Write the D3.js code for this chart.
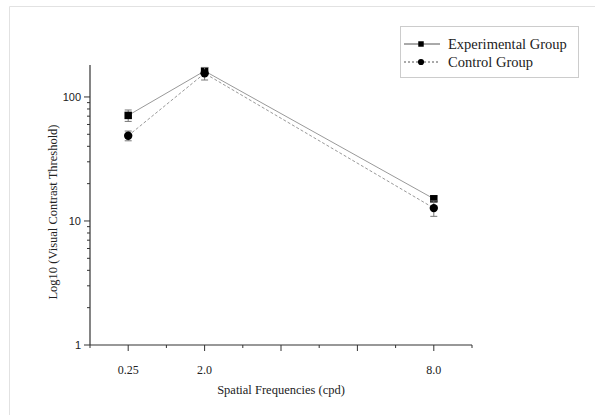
<!DOCTYPE html>
<html>
<head>
<meta charset="utf-8">
<script src="https://cdn.jsdelivr.net/npm/d3@7"></script>
<style>
  body { margin: 0; background: #fff; }
  .serif { font-family: "Liberation Serif", "Times New Roman", serif; fill: #222; }
  .sans { font-family: "Liberation Sans", Arial, sans-serif; fill: #222; }
</style>
</head>
<body>
<div id="chart"></div>
<script>
  // spatial frequency categories and their slot on the x index axis
  var categories = ['0.25', '2.0', '8.0'];
  var slots = [1, 3, 9];

  var expValues = [71, 162, 15.1];
  var expErr = [7.5, 10, 0.8];
  var ctrlValues = [48.7, 155, 12.7];
  var ctrlErr = [4.4, 18, 1.8];

  var yTickValues = [1, 10, 100];

  var width = 595, height = 415;
  var svg = d3.select('#chart').append('svg').attr('width', width).attr('height', height);

  // light page frame
  svg.append('path').attr('d', 'M9.5,415 V6.5 H595').attr('fill', 'none').attr('stroke', '#e2e2e2');

  var x = d3.scaleLinear().domain([0, 10]).range([90, 472]);
  var y = d3.scaleLog().domain([1, 181]).range([345, 65]);

  var axisColor = '#333';

  // y axis
  var yAxis = svg.append('g').attr('transform', 'translate(90,0)');
  yAxis.append('line').attr('y1', y(1)).attr('y2', y(181)).attr('stroke', axisColor).attr('stroke-width', 1.2);
  var minor = [];
  [1, 10, 100].forEach(function(d) {
    for (var i = 2; i <= 9; i++) if (d * i <= 181) minor.push(d * i);
  });
  yAxis.selectAll('.minor').data(minor).enter().append('line')
    .attr('x1', -3).attr('x2', 0).attr('y1', function(d) { return y(d); }).attr('y2', function(d) { return y(d); })
    .attr('stroke', axisColor);
  yAxis.selectAll('.major').data(yTickValues).enter().append('line')
    .attr('x1', -6).attr('x2', 0).attr('y1', function(d) { return y(d); }).attr('y2', function(d) { return y(d); })
    .attr('stroke', axisColor);
  yAxis.selectAll('text').data(yTickValues).enter().append('text').attr('class', 'sans')
    .attr('x', -9).attr('y', function(d) { return y(d); }).attr('dy', '0.35em')
    .attr('text-anchor', 'end').style('font-size', '11px').text(function(d) { return d; });

  // x axis
  var xAxis = svg.append('g').attr('transform', 'translate(0,' + y(1) + ')');
  xAxis.append('line').attr('x1', x(0)).attr('x2', x(10)).attr('stroke', axisColor).attr('stroke-width', 1.2);
  xAxis.selectAll('.tick').data(d3.range(0, 11)).enter().append('line')
    .attr('x1', function(d) { return x(d); }).attr('x2', function(d) { return x(d); })
    .attr('y1', 0).attr('y2', function(d) { return d % 2 ? 6 : 3; })
    .attr('stroke', axisColor);
  xAxis.selectAll('text').data(categories).enter().append('text').attr('class', 'serif')
    .attr('x', function(d, i) { return x(slots[i]); }).attr('y', 29)
    .attr('text-anchor', 'middle').style('font-size', '12px').text(function(d) { return d; });

  svg.append('text').attr('class', 'serif').attr('x', 281).attr('y', 394)
    .attr('text-anchor', 'middle').style('font-size', '12.5px').text('Spatial Frequencies (cpd)');
  svg.append('text').attr('class', 'serif').attr('transform', 'translate(57,212) rotate(-90)')
    .attr('text-anchor', 'middle').style('font-size', '12.5px').text('Log10 (Visual Contrast Threshold)');

  var line = d3.line().x(function(d) { return x(d.s); }).y(function(d) { return y(d.v); });

  function series(values, errs, dash, shape) {
    var data = values.map(function(v, i) { return { s: slots[i], v: v, e: errs[i] }; });
    var g = svg.append('g');
    g.append('path').datum(data).attr('d', line).attr('fill', 'none')
      .attr('stroke', '#999').attr('stroke-width', 1).attr('stroke-dasharray', dash);
    var eb = g.selectAll('.err').data(data).enter().append('g').attr('stroke', '#777').attr('stroke-width', 1);
    eb.append('line').attr('x1', function(d) { return x(d.s); }).attr('x2', function(d) { return x(d.s); })
      .attr('y1', function(d) { return y(d.v - d.e); }).attr('y2', function(d) { return y(d.v + d.e); });
    [-1, 1].forEach(function(sign) {
      eb.append('line').attr('x1', function(d) { return x(d.s) - 3.5; }).attr('x2', function(d) { return x(d.s) + 3.5; })
        .attr('y1', function(d) { return y(d.v + sign * d.e); }).attr('y2', function(d) { return y(d.v + sign * d.e); });
    });
    g.selectAll('.pt').data(data).enter().append('path')
      .attr('transform', function(d) { return 'translate(' + x(d.s) + ',' + y(d.v) + ')'; })
      .attr('d', d3.symbol().type(shape).size(shape === d3.symbolSquare ? 56 : 55))
      .attr('fill', '#000');
  }

  series(expValues, expErr, null, d3.symbolSquare);
  series(ctrlValues, ctrlErr, '3,2', d3.symbolCircle);

  // legend
  var legend = svg.append('g');
  legend.append('rect').attr('x', 400.5).attr('y', 26.5).attr('width', 178).attr('height', 51)
    .attr('fill', '#fff').attr('stroke', '#ccc');
  var entries = [
    { name: 'Experimental Group', dash: null, shape: d3.symbolSquare },
    { name: 'Control Group', dash: '2,2', shape: d3.symbolCircle }
  ];
  var le = legend.selectAll('.entry').data(entries).enter().append('g')
    .attr('transform', function(d, i) { return 'translate(0,' + (44 + i * 18) + ')'; });
  le.append('line').attr('x1', 404).attr('x2', 440).attr('stroke', '#555')
    .attr('stroke-dasharray', function(d) { return d.dash; });
  le.append('path').attr('transform', 'translate(421,0)')
    .attr('d', function(d) { return d3.symbol().type(d.shape).size(30)(); }).attr('fill', '#000');
  le.append('text').attr('class', 'serif').attr('x', 448).attr('dy', '0.35em')
    .style('font-size', '14.5px').text(function(d) { return d.name; });
</script>
</body>
</html>
